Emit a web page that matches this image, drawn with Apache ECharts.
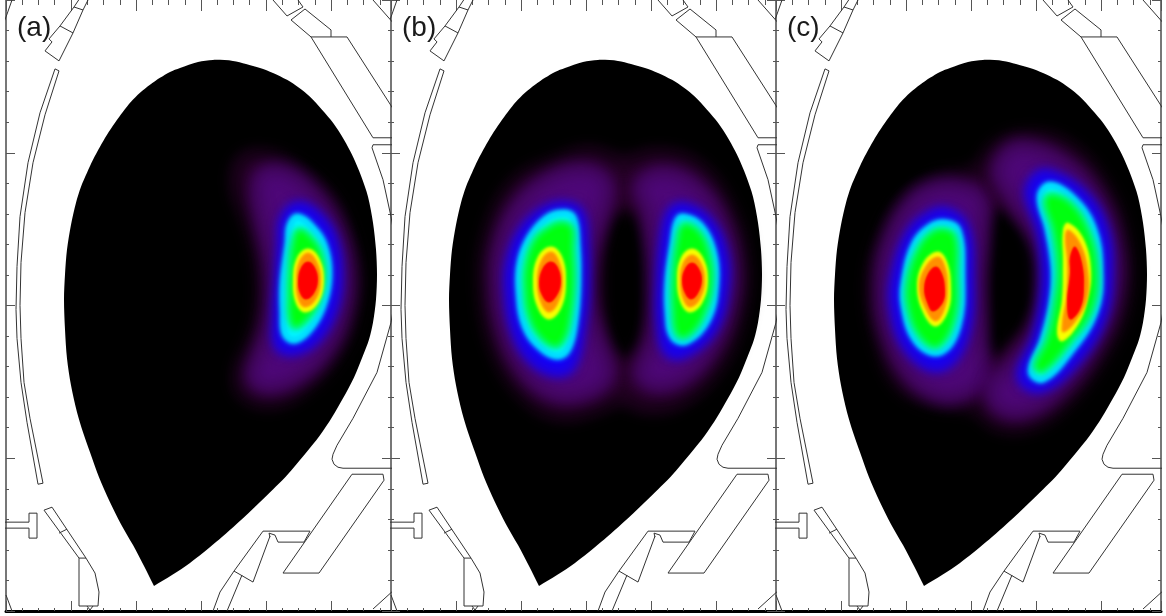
<!DOCTYPE html>
<html><head><meta charset="utf-8">
<style>html,body{margin:0;padding:0;background:#fff}#c{width:1166px;height:616px}</style>
<script src="https://cdn.jsdelivr.net/npm/echarts@6/dist/echarts.min.js"></script>
</head><body><div id="c"></div>
<script>
const panelLabels = ['(a)', '(b)', '(c)'];
const plasmaEdge = [[154,587],[154,587],[172,576],[190,564],[216,543],[243,519],[265,498],[287,476],[304,456],[320,436],[332,418],[343,399],[354,378],[363,356],[369,340],[373,323],[376,300],[377,275],[376,250],[373,223],[368,197],[361,176],[353,157],[344,140],[333,123],[322,110],[310,97],[299,88],[287,80],[273,73],[260,68],[246,64],[233,61],[213,60],[198,62],[180,68],[170,72],[160,78],[150,85],[140,93],[131,102],[123,112],[115,123],[107,135],[100,147],[93,160],[87,173],[81,187],[76,203],[71,225],[67,250],[65,275],[64,300],[65,330],[67,359],[71,386],[77,413],[83,433],[90,453],[99,478],[110,503],[121,525],[133,546],[144,567]];
const wallOuterLeft = [[55,69],[40,113],[28,163],[20,217],[17,267],[16,310],[17,339],[21,383],[27,423],[38,485],[43,484],[30,419],[24,383],[21,339],[20,306],[21,263],[25,213],[33,163],[45,115],[59,71],[55,69]];
const portTopLeft = [[45,51],[59,61],[73,33],[83,10],[74,7],[60,26],[49,39],[52,42],[45,51]];
const portTopLeftBar = [[60,26],[73,33]];
const portTopLeftA = [[74,7],[80,-2]];
const portTopLeftB = [[83,10],[89,-2]];
const portTopRightA = [[273,0],[287,16],[303,7],[298,0]];
const portTopRightB = [[291,20],[305,9],[331,30],[331,37]];
const coilUpperA = [[291,20],[311,37],[347,37],[395,112]];
const coilUpperB = [[311,37],[373,138],[395,138]];
const wallRightUpper = [[395,145],[373,145],[372,148],[383,180],[391,217],[395,240]];
const wallRightLower = [[395,300],[391,323],[377,373],[353,419],[337,446],[333,455],[332,460],[334,465],[338,468],[343,469],[395,469]];
const cornerTopRight = [[373,0],[395,25]];
const cornerTopLeft = [[2,27],[6,17],[12,0]];
const cornerBottomLeft = [[6,596],[12,612]];
const cornerBottomRight = [[373,610],[395,590]];
const divertorPlate = [[352,475],[383,475],[384,481],[319,574],[283,574],[352,475]];
const divertorShelf = [[263,532],[310,532],[304,543],[278,543],[275,536],[269,534],[267,535],[270,538]];
const divertorWedge = [[263,532],[234,572],[253,583],[270,537]];
const divertorLegA = [[234,572],[220,593],[213,612]];
const divertorLegB = [[242,576],[227,612]];
const teeLeft = [[2,523],[29,523],[29,514],[37,514],[37,539],[29,539],[29,529],[2,529]];
const lowerLeftSlab = [[44,511],[52,508],[86,559],[79,559],[44,511]];
const lowerLeftBar = [[59,534],[67,530]];
const lowerLeftBox = [[79,559],[79,607],[98,607],[99,593],[95,574],[86,559]];
const lowerLeftFoot = [[87,607],[90,611],[93,607]];

const aDim = [[243,160],[273,158],[300,173],[330,200],[347,240],[355,277],[350,317],[337,350],[310,383],[273,403],[243,393],[240,370],[253,343],[262,307],[260,260],[250,223],[237,187]];
const aMid = [[263,173],[287,173],[313,193],[337,230],[347,277],[342,317],[327,350],[300,377],[270,388],[253,380],[257,360],[267,333],[272,300],[270,260],[262,223],[257,190]];
const aBlue = [[298,207],[318,218],[332,240],[337,277],[332,310],[317,337],[297,350],[280,347],[278,317],[280,283],[283,243],[285,220]];
const aCyan = [[298,217],[313,228],[325,247],[329,277],[323,307],[310,330],[295,341],[285,335],[283,313],[283,283],[288,243],[290,225]];
const aGreen = [[299,230],[313,240],[322,257],[324,280],[318,303],[307,320],[295,328],[290,320],[289,297],[290,270],[293,243]];
const aYellow = [[308,249],[319,258],[324,281],[318,304],[305,313],[296,304],[293,281],[297,258]];
const aOrange = [[308,253],[317,262],[321,281],[316,300],[305,308],[298,300],[296,281],[299,262]];
const aRed = [[308,262],[315,268],[318,281],[314,294],[306,300],[300,294],[298,281],[301,268]];

const bDim = [[557,163],[590,153],[623,163],[657,155],[697,167],[727,207],[743,263],[738,317],[717,367],[677,403],[640,407],[623,397],[600,407],[560,415],[525,395],[497,350],[485,290],[490,235],[515,185]];
const bHole = [[625,210],[640,225],[648,283],[640,340],[625,358],[610,340],[602,283],[610,225]];
const bMidL = [[583,170],[605,180],[607,197],[598,227],[590,257],[588,300],[597,337],[608,367],[605,383],[577,397],[547,393],[520,367],[503,327],[497,283],[500,247],[517,207],[547,180]];
const bMidR = [[667,173],[697,187],[720,220],[732,267],[728,310],[713,347],[687,377],[657,387],[640,377],[643,363],[653,337],[655,290],[653,247],[647,207],[640,193],[643,180]];
const bBlueL = [[562,207],[578,213],[583,243],[584,290],[580,327],[570,367],[555,372],[533,360],[517,333],[510,293],[512,260],[525,230],[545,212]];
const bCyanL = [[562,213],[573,217],[577,243],[578,283],[575,323],[568,350],[557,357],[540,348],[525,327],[519,293],[520,263],[530,237],[547,218]];
const bGreenL = [[563,223],[572,228],[573,250],[574,283],[570,320],[564,340],[555,347],[540,337],[529,317],[525,290],[526,265],[535,240],[550,227]];
const bYellowL = [[551,247],[562,257],[566,283],[561,309],[549,320],[538,309],[533,283],[538,257]];
const bOrangeL = [[551,252],[559,261],[563,283],[558,304],[549,313],[541,304],[537,283],[541,261]];
const bRedL = [[551,262],[558,268],[561,283],[557,296],[549,303],[542,296],[539,283],[543,268]];
const bBlueR = [[683,208],[707,222],[722,253],[723,290],[713,327],[690,350],[670,353],[662,323],[662,283],[665,243],[672,213]];
const bCyanR = [[683,217],[700,225],[713,250],[716,283],[708,320],[687,342],[673,338],[668,313],[668,280],[673,243],[677,222]];
const bGreenR = [[683,225],[697,230],[708,250],[712,283],[703,317],[687,337],[677,335],[673,310],[673,277],[677,243]];
const bYellowR = [[692,249],[703,258],[708,281],[702,304],[690,313],[681,304],[677,281],[681,258]];
const bOrangeR = [[692,255],[701,263],[705,281],[700,300],[690,308],[683,300],[680,281],[683,263]];
const bRedR = [[692,263],[699,269],[702,281],[698,294],[691,300],[685,294],[682,281],[685,269]];

const cDim = [[1023,137],[1067,147],[1103,187],[1123,243],[1123,303],[1100,357],[1060,407],[1023,427],[993,423],[977,407],[940,403],[903,387],[883,347],[873,287],[883,240],[907,200],[940,180],[977,173],[993,150]];
const cHole = [[995,210],[1017,223],[1037,253],[1040,280],[1030,317],[1010,343],[990,357],[987,317],[987,263]];
const cMidL = [[957,187],[980,197],[982,230],[978,280],[980,343],[983,377],[967,393],[940,397],[910,377],[887,330],[882,283],[890,240],[913,200],[937,187]];
const cMidR = [[1023,147],[1060,160],[1093,193],[1113,243],[1113,297],[1093,347],[1057,393],[1023,413],[997,407],[992,387],[1013,363],[1037,327],[1043,280],[1037,240],[1013,200],[998,173],[1007,153]];
const cBlueL = [[945,213],[963,227],[968,273],[963,337],[940,367],[910,350],[895,307],[898,270],[912,233],[930,217]];
const cCyanL = [[945,223],[958,230],[962,273],[958,327],[940,353],[917,343],[904,307],[905,277],[915,243],[930,227]];
const cGreenL = [[945,230],[955,237],[957,273],[955,317],[938,347],[920,337],[908,307],[908,280],[918,250],[932,233]];
const cYellowL = [[938,252],[947,262],[951,287],[948,312],[936,327],[924,315],[917,287],[924,262]];
const cOrangeL = [[938,257],[945,266],[948,287],[945,309],[936,322],[926,311],[919,287],[926,266]];
const cRedL = [[936,267],[942,274],[945,289],[943,303],[933,312],[927,303],[924,289],[928,274]];
const cBlueR = [[1048,175],[1080,193],[1102,227],[1107,273],[1100,320],[1073,363],[1040,388],[1022,377],[1037,340],[1045,303],[1047,270],[1042,230],[1030,193],[1037,178]];
const cCyanR = [[1050,185],[1073,198],[1093,227],[1100,270],[1095,313],[1070,353],[1043,380],[1031,372],[1043,340],[1052,303],[1054,270],[1048,230],[1040,197]];
const cGreenR = [[1050,195],[1070,203],[1088,230],[1097,270],[1092,310],[1070,343],[1043,372],[1035,367],[1047,340],[1055,303],[1058,270],[1053,230],[1045,203]];
const cYellowR = [[1068,223],[1083,238],[1091,270],[1087,303],[1077,327],[1062,342],[1057,333],[1062,300],[1063,263],[1063,230]];
const cOrangeR = [[1068,230],[1080,243],[1088,270],[1087,300],[1075,323],[1063,333],[1062,323],[1066,297],[1067,263],[1065,237]];
const cRedR = [[1075,247],[1082,263],[1084,290],[1080,310],[1070,320],[1067,303],[1070,273],[1070,257]];

const walls = [wallOuterLeft,portTopLeft,portTopLeftBar,portTopLeftA,portTopLeftB,portTopRightA,portTopRightB,coilUpperA,coilUpperB,wallRightUpper,wallRightLower,cornerTopRight,cornerTopLeft,cornerBottomLeft,cornerBottomRight,divertorPlate,divertorShelf,divertorWedge,divertorLegA,divertorLegB,teeLeft,lowerLeftSlab,lowerLeftBar,lowerLeftBox,lowerLeftFoot];
const levelStyle = {
  plasma:{fill:'#000000',blur:0,grow:0,smooth:.3},
  dim:{fill:'#2a002a',blur:18,grow:3,smooth:.4},
  hole:{fill:'#000000',blur:14,grow:0,smooth:.4},
  mid:{fill:'#4e0878',blur:16,grow:4,smooth:.4},
  blue:{fill:'#1000ff',blur:12,grow:4,smooth:.4},
  cyan:{fill:'#00f4ff',blur:5,grow:3,smooth:.4},
  green:{fill:'#00ff10',blur:6,grow:1,smooth:.4},
  yellow:{fill:'#f8ff00',blur:3,grow:0,smooth:.4},
  orange:{fill:'#ff9000',blur:3,grow:0,smooth:.4},
  red:{fill:'#ff0000',blur:2,grow:0,smooth:.4}
};
const panelOrigins = [6,391,776];
const panelWidth = 385, panelHeight = 611;
const sideShift = 3000;
const panelLayers = [
  [['dim',aDim],['mid',aMid],['blue',aBlue],['cyan',aCyan],['green',aGreen],['yellow',aYellow],['orange',aOrange],['red',aRed]],
  [['dim',bDim],['hole',bHole],['mid',bMidL],['mid',bMidR],['blue',bBlueL],['blue',bBlueR],['cyan',bCyanL],['cyan',bCyanR],['green',bGreenL],['green',bGreenR],['yellow',bYellowL],['yellow',bYellowR],['orange',bOrangeL],['orange',bOrangeR],['red',bRedL],['red',bRedR]],
  [['dim',cDim],['hole',cHole],['mid',cMidL],['mid',cMidR],['blue',cBlueL],['blue',cBlueR],['cyan',cCyanL],['cyan',cCyanR],['green',cGreenL],['green',cGreenR],['yellow',cYellowL],['yellow',cYellowR],['orange',cOrangeL],['orange',cOrangeR],['red',cRedL],['red',cRedR]]
];
const tickColor = '#555', edgeColor = '#777';
const base = {type:'value',min:0,axisLabel:{show:false},splitLine:{show:false}};
function xAxisOf(g,pos,interval,len,line){
  return {...base,gridIndex:g,position:pos,max:panelWidth,interval,
    axisLine:line?{show:true,onZero:false,lineStyle:{color:'#000',width:3}}:{show:false,onZero:false},
    axisTick:{show:true,inside:true,length:len,lineStyle:{color:tickColor,width:1}}};
}
function yAxisOf(g,pos){
  return {...base,gridIndex:g,position:pos,max:612,inverse:true,interval:153,
    axisLine:{show:true,onZero:false,lineStyle:{color:edgeColor,width:2}},
    axisTick:{show:true,inside:true,length:9,lineStyle:{color:tickColor,width:1}},
    minorTick:{show:true,splitNumber:5,length:3,lineStyle:{color:tickColor,width:1}}};
}
const grids=[],xAxes=[],yAxes=[],series=[],titles=[];
panelOrigins.forEach((origin,g)=>{
  grids.push({left:origin,top:0,width:panelWidth,height:panelHeight,containLabel:false});
  const xi=xAxes.length, yi=yAxes.length;
  xAxes.push(xAxisOf(g,'bottom',65,10,true),xAxisOf(g,'bottom',16.25,3,false),xAxisOf(g,'top',65,11,false),xAxisOf(g,'top',16.25,5,false));
  yAxes.push(yAxisOf(g,'left'),yAxisOf(g,'right'));
  const contours=[['plasma',plasmaEdge.map(p=>[p[0]-6,p[1]])]].concat(panelLayers[g].map(l=>[l[0],l[1].map(p=>[p[0]-origin,p[1]])]));
  series.push({type:'custom',xAxisIndex:xi,yAxisIndex:yi,coordinateSystem:'cartesian2d',clip:true,silent:true,animation:false,
    data:contours.map((c,i)=>[i]),
    encode:{x:[],y:[]},
    renderItem:(params,api)=>{
      const c=contours[api.value(0)],st=levelStyle[c[0]],pts=c[1].map(p=>api.coord(p));
      if(!st.blur) return {type:'polygon',shape:{points:pts,smooth:st.smooth},style:{fill:st.fill}};
      return {type:'polygon',x:-sideShift,shape:{points:pts,smooth:st.smooth},
        style:{fill:st.fill,stroke:st.grow?st.fill:null,lineWidth:st.grow*2,lineJoin:'round',shadowBlur:st.blur,shadowColor:st.fill,shadowOffsetX:sideShift}};
    }});
  walls.forEach(w=>series.push({type:'line',xAxisIndex:xi,yAxisIndex:yi,showSymbol:false,symbol:'none',clip:true,silent:true,animation:false,z:3,
    data:w.map(p=>[p[0]-6,p[1]]),lineStyle:{color:'#333',width:1}}));
  titles.push({text:panelLabels[g],left:origin+11,top:14,padding:0,textStyle:{fontFamily:'Liberation Sans',fontWeight:'normal',fontSize:28,color:'#1a1a1a'}});
});
echarts.init(document.getElementById('c'),null,{renderer:'canvas'}).setOption({
  backgroundColor:'#fff',animation:false,title:titles,grid:grids,xAxis:xAxes,yAxis:yAxes,series
});
</script></body></html>
